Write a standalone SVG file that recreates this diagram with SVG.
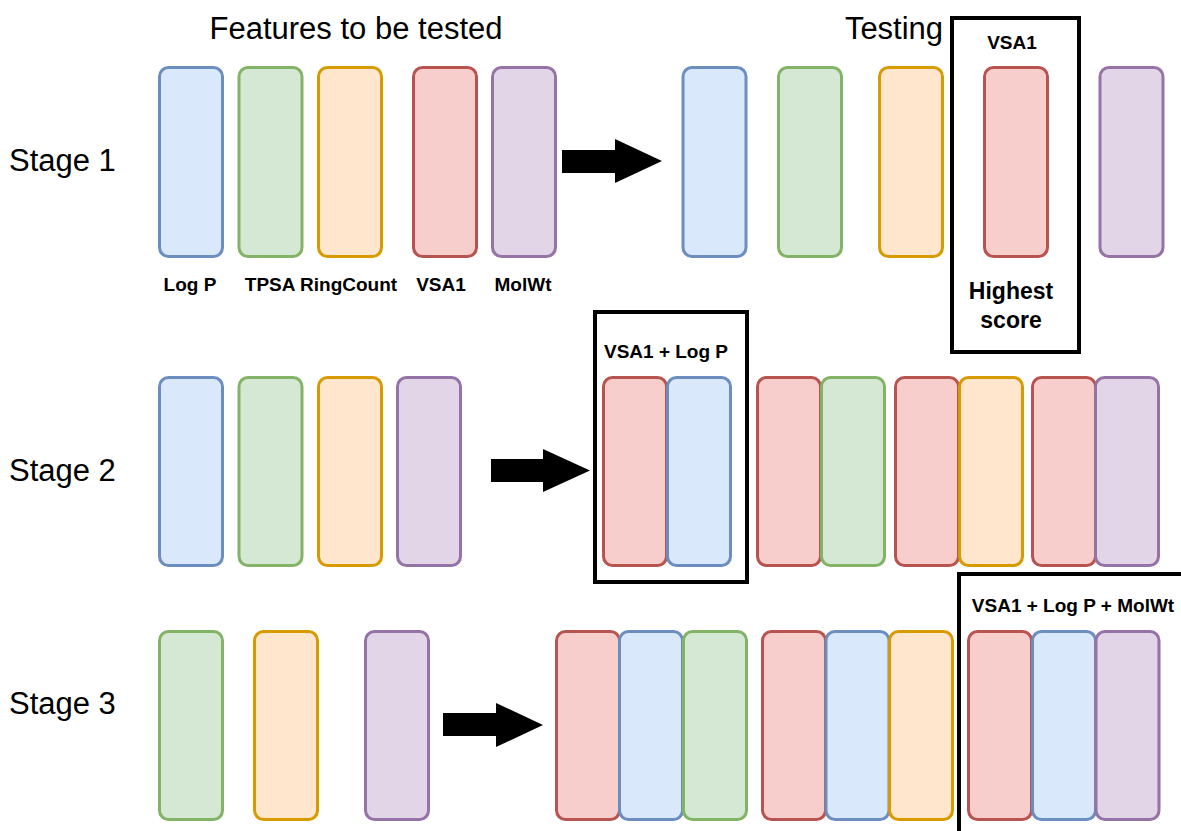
<svg xmlns="http://www.w3.org/2000/svg" width="1181" height="831" viewBox="0 0 1181 831">
<style>
.f{stroke-width:3}
.b{fill:#dae8fc;stroke:#6c8ebf}
.g{fill:#d5e8d4;stroke:#82b366}
.o{fill:#ffe6cc;stroke:#d79b00}
.r{fill:#f8cecc;stroke:#b85450}
.p{fill:#e1d5e7;stroke:#9673a6}
.box{fill:none;stroke:#000;stroke-width:4}
.h{font-family:"Liberation Sans",Arial,sans-serif;font-size:31px;fill:#000}
.l{font-family:"Liberation Sans",Arial,sans-serif;font-size:19px;font-weight:bold;fill:#000;text-anchor:middle}
.hs{font-family:"Liberation Sans",Arial,sans-serif;font-size:23px;font-weight:bold;fill:#000;text-anchor:middle}
.arr{fill:#000}
</style>
<defs>
<rect id="c1" width="63" height="189" rx="9" ry="9" stroke-width="3"/>
<rect id="c2" width="63" height="188" rx="9" ry="9" stroke-width="3"/>
</defs>
<rect width="1181" height="831" fill="#fff"/>
<g id="headers">
<text class="h" x="356" y="39" text-anchor="middle">Features to be tested</text>
<text class="h" x="894" y="39" text-anchor="middle">Testing</text>
<text class="h" x="9" y="171">Stage 1</text>
<text class="h" x="9" y="481">Stage 2</text>
<text class="h" x="9" y="714">Stage 3</text>
</g>
<g id="stage1-features">
<g id="s1-logp"><use href="#c1" x="159.5" y="67.5" class="b"/><text class="l" x="190" y="291">Log P</text></g>
<g id="s1-tpsa"><use href="#c1" x="239" y="67.5" class="g"/></g>
<g id="s1-ring"><use href="#c1" x="318.5" y="67.5" class="o"/></g>
<text class="l" x="321" y="291">TPSA RingCount</text>
<g id="s1-vsa1"><use href="#c1" x="413.5" y="67.5" class="r"/><text class="l" x="441" y="291">VSA1</text></g>
<g id="s1-molwt"><use href="#c1" x="492.5" y="67.5" class="p"/><text class="l" x="523" y="291">MolWt</text></g>
</g>
<g id="stage1-testing">
<use href="#c1" x="683" y="67.5" class="b"/>
<use href="#c1" x="778.5" y="67.5" class="g"/>
<use href="#c1" x="879.5" y="67.5" class="o"/>
<use href="#c1" x="984.5" y="67.5" class="r"/>
<use href="#c1" x="1100" y="67.5" class="p"/>
</g>
<g id="best1">
<rect class="box" x="952" y="18" width="127" height="334"/>
<text class="l" x="1012" y="49">VSA1</text>
<text class="hs" x="1011" y="299">Highest</text>
<text class="hs" x="1011" y="328">score</text>
</g>
<g id="stage2-features">
<use href="#c2" x="159.5" y="377.5" class="b"/>
<use href="#c2" x="239" y="377.5" class="g"/>
<use href="#c2" x="318.5" y="377.5" class="o"/>
<use href="#c2" x="397.5" y="377.5" class="p"/>
</g>
<g id="best2">
<rect class="box" x="595" y="312" width="152" height="270"/>
<text class="l" x="666" y="358">VSA1 + Log P</text>
<use href="#c2" x="603.5" y="377.5" class="r"/>
<use href="#c2" x="667.5" y="377.5" class="b"/>
</g>
<g id="stage2-testing">
<use href="#c2" x="757.5" y="377.5" class="r"/>
<use href="#c2" x="821.5" y="377.5" class="g"/>
<use href="#c2" x="895.5" y="377.5" class="r"/>
<use href="#c2" x="959.5" y="377.5" class="o"/>
<use href="#c2" x="1032.5" y="377.5" class="r"/>
<use href="#c2" x="1095.5" y="377.5" class="p"/>
</g>
<g id="stage3-features">
<use href="#c2" x="159.5" y="631.5" class="g"/>
<use href="#c2" x="254.5" y="631.5" class="o"/>
<use href="#c2" x="365.5" y="631.5" class="p"/>
</g>
<g id="stage3-testing">
<use href="#c2" x="556.5" y="631.5" class="r"/>
<use href="#c2" x="619.5" y="631.5" class="b"/>
<use href="#c2" x="683.5" y="631.5" class="g"/>
<use href="#c2" x="762.5" y="631.5" class="r"/>
<use href="#c2" x="826" y="631.5" class="b"/>
<use href="#c2" x="889.5" y="631.5" class="o"/>
</g>
<g id="best3">
<rect class="box" x="959" y="574" width="240" height="280"/>
<text class="l" x="1073" y="612">VSA1 + Log P + MolWt</text>
<use href="#c2" x="968.5" y="631.5" class="r"/>
<use href="#c2" x="1032.5" y="631.5" class="b"/>
<use href="#c2" x="1096" y="631.5" class="p"/>
</g>
<g id="connectors">
<polygon class="arr" points="562,150 615,150 615,139 662,161 615,183 615,173 562,173"/>
<polygon class="arr" points="491,459 543,459 543,449 590,470.5 543,492 543,482 491,482"/>
<polygon class="arr" points="443,713 496,713 496,703 543,725 496,747 496,736 443,736"/>
</g>
</svg>
